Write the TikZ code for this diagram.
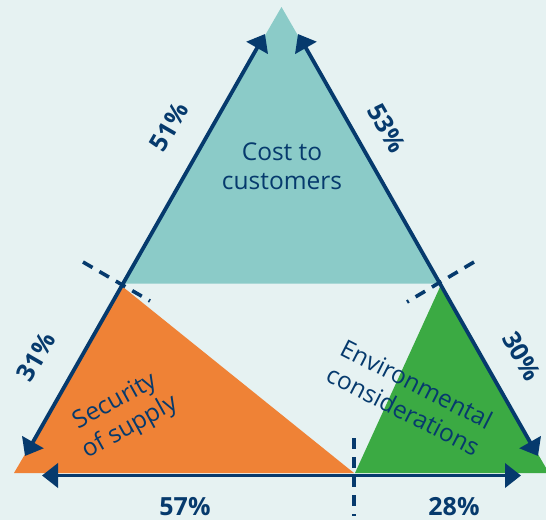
\documentclass[tikz,border=0pt]{standalone}
\usepackage{fontspec}
\setmainfont{Open Sans}
\usetikzlibrary{arrows.meta}
\definecolor{bg}{HTML}{E6F2F2}
\definecolor{tealc}{HTML}{8BCBC8}
\definecolor{orangec}{HTML}{EF8236}
\definecolor{greenc}{HTML}{3BAA43}
\definecolor{navy}{HTML}{063A6D}
\begin{document}
\begin{tikzpicture}[x=1pt,y=-1pt,
  axis/.style={navy, line width=3.8pt, {Triangle[width=24pt,length=16pt]}-{Triangle[width=24pt,length=16pt]}},
  divider/.style={navy, line width=3.6pt, dash pattern=on 11pt off 8pt},
  pct/.style={text=navy, font=\fontsize{25}{29}\selectfont\bfseries, inner sep=0pt},
  lbl/.style={text=navy, font=\fontsize{24.5}{29.5}\selectfont, align=center, inner sep=0pt},
]
\fill[bg] (0,0) rectangle (546,520);
\useasboundingbox (0,0) rectangle (546,520);
% coloured regions
\fill[tealc] (281.5,7) -- (121,283.5) -- (441,283.5) -- cycle;
\fill[orangec] (123,287) -- (14,473) -- (354,473) -- cycle;
\fill[greenc] (440,287) -- (355,473) -- (549,473) -- cycle;
% end points
\coordinate (LB) at (25,456);
\coordinate (LT) at (265,34);
\coordinate (RT) at (298,34);
\coordinate (RB) at (538,456);
\coordinate (BL) at (42,475.5);
\coordinate (BR) at (521,475.5);
\coordinate (D1a) at (83,262);
\coordinate (D1b) at (150,301);
\coordinate (D2a) at (474,262);
\coordinate (D2b) at (407,302);
\coordinate (D3a) at (354,438);
\coordinate (D3b) at (354,516);
% axes
\draw[axis] (LB) -- (LT);
\draw[axis] (RT) -- (RB);
\draw[axis] (BL) -- (BR);
% dividers
\draw[divider] (D1a) -- (D1b);
\draw[divider] (D2a) -- (D2b);
\draw[divider] (D3a) -- (D3b);
% labels
\node[pct, rotate=60] (p51) at (169,127) {51\%};
\node[pct, rotate=-60] (p53) at (387,128) {53\%};
\node[pct, rotate=60] (p31) at (36,357) {31\%};
\node[pct, rotate=-60] (p30) at (522,356) {30\%};
\node[pct] (p57) at (185,507) {57\%};
\node[pct] (p28) at (454,507) {28\%};
\node[lbl] (cost) at (282,166) {Cost to\\customers};
\node[lbl, rotate=29] (sec) at (123,415) {Security\\of supply};
\node[lbl, rotate=-27] (env) at (410,397) {Environmental\\considerations};
\end{tikzpicture}
\end{document}
